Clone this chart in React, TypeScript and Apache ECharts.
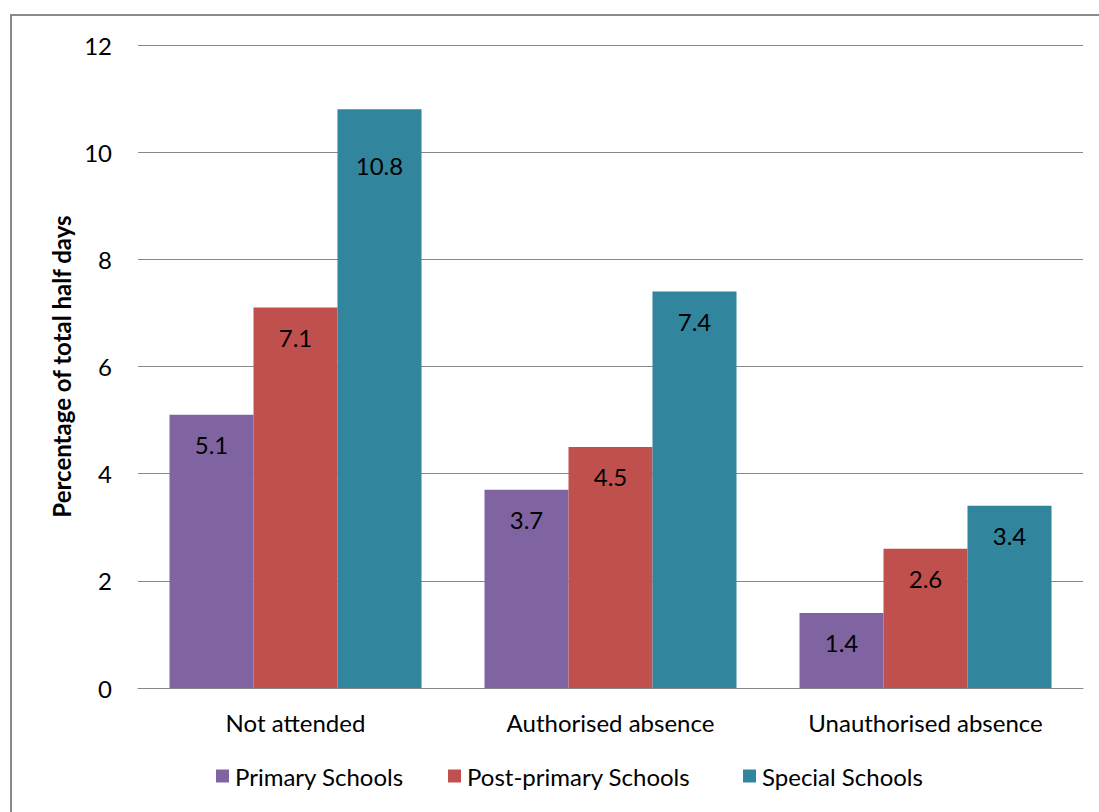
import React, { useEffect, useRef } from "react";
import * as echarts from "echarts";

const categories = ["Not attended", "Authorised absence", "Unauthorised absence"];
const primary = [5.1, 3.7, 1.4];
const postPrimary = [7.1, 4.5, 2.6];
const special = [10.8, 7.4, 3.4];
const seriesNames = ["Primary Schools", "Post-primary Schools", "Special Schools"];
const colors = ["#8064A2", "#C0504D", "#31859C"];
const legendLefts = [211, 443, 738];

const FONT = "Lato";
const FS = 24;

export default function App() {
  const ref = useRef<HTMLDivElement>(null);

  useEffect(() => {
    if (!ref.current) return;
    const chart = echarts.init(ref.current, null, { renderer: "svg" });

    const labelBase = {
      show: true,
      position: "insideTop" as const,
      distance: 18,
      color: "#000",
      fontFamily: FONT,
      fontSize: FS,
    };

    const makeSeries = (name: string, values: number[], color: string, tallLabelDistance?: number) => ({
      name,
      type: "bar",
      data: values.map((v) =>
        tallLabelDistance !== undefined && v > 10
          ? { value: v, label: { distance: tallLabelDistance } }
          : v
      ),
      itemStyle: { color },
      barGap: "0%",
      barCategoryGap: "20%",
      label: labelBase,
    });

    // one legend block per series so each entry sits at its own spot
    const legends = seriesNames.map((name, i) => ({
      top: 759,
      left: legendLefts[i],
      itemWidth: 13,
      itemHeight: 13,
      icon: "rect",
      textStyle: { fontFamily: FONT, fontSize: FS, color: "#000", padding: [0, 0, 0, 1] },
      data: [name],
    }));

    chart.setOption({
      animation: false,
      backgroundColor: "#fff",
      textStyle: { fontFamily: FONT },
      grid: { left: 138, right: 16, top: 45, bottom: 124, containLabel: false },
      legend: legends,
      xAxis: {
        type: "category",
        data: categories,
        axisLine: { lineStyle: { color: "#888", width: 1 } },
        axisTick: { show: false },
        axisLabel: { color: "#000", fontFamily: FONT, fontSize: FS, margin: 22 },
      },
      yAxis: {
        type: "value",
        min: 0,
        max: 12,
        interval: 2,
        name: "Percentage of total half days",
        nameLocation: "middle",
        nameGap: 63,
        nameTextStyle: { fontFamily: FONT, fontSize: 24, fontWeight: "bold", color: "#000" },
        axisLine: { show: false },
        axisTick: { show: false },
        axisLabel: { color: "#000", fontFamily: FONT, fontSize: FS, margin: 26 },
        splitLine: { lineStyle: { color: "#888", width: 1 } },
      },
      graphic: [
        {
          type: "rect",
          shape: { x: 11, y: 15, width: 1200, height: 900 },
          style: { fill: "none", stroke: "#8a8a8a", lineWidth: 2 },
          silent: true,
          z: 10,
        },
      ],
      series: [
        makeSeries(seriesNames[0], primary, colors[0]),
        makeSeries(seriesNames[1], postPrimary, colors[1]),
        makeSeries(seriesNames[2], special, colors[2], 44),
      ],
    });

    return () => chart.dispose();
  }, []);

  return (
    <div
      ref={ref}
      style={{ position: "absolute", left: 0, top: 0, width: 1099, height: 812 }}
    />
  );
}
